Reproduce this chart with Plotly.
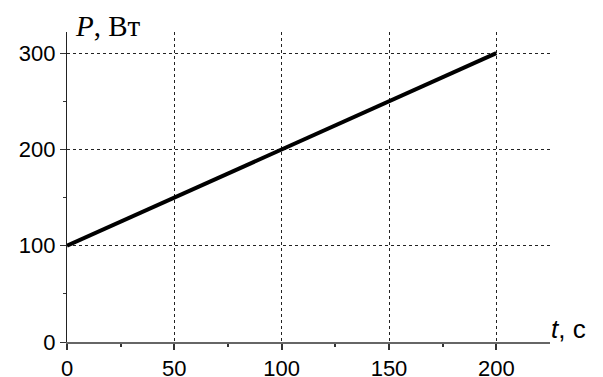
import plotly.graph_objects as go

t_values = [0, 200]
p_values = [100, 300]
x_ticks = [0, 50, 100, 150, 200]
y_ticks = [0, 100, 200, 300]

fig = go.Figure()
fig.add_trace(go.Scatter(x=t_values, y=p_values, mode="lines",
                         line=dict(color="black", width=4), showlegend=False,
                         cliponaxis=False))

axis_common = dict(
    showline=True, showgrid=True, gridcolor="#222", gridwidth=1, griddash="dot",
    zeroline=False, ticks="outside", ticklen=6,
    tickfont=dict(family="Arial", size=22, color="black"),
    automargin=False,
)

fig.update_xaxes(range=[0, 225], tickvals=x_ticks, linecolor="#666", linewidth=2,
                 tickcolor="#333", tickwidth=1.5,
                 minor=dict(tickvals=[25, 75, 125, 175], ticks="outside", ticklen=3,
                            tickcolor="#333", showgrid=False),
                 **axis_common)
fig.update_yaxes(range=[0, 322], tickvals=y_ticks, linecolor="#222", linewidth=1.3,
                 tickcolor="#333", tickwidth=1.3,
                 minor=dict(tickvals=[50, 150, 250], ticks="outside", ticklen=3,
                            tickcolor="#333", showgrid=False),
                 **axis_common)

fig.add_annotation(xref="paper", yref="paper", x=0.012, y=1.019, xanchor="left", yanchor="middle",
                   text="<i>P</i>, Вт", showarrow=False,
                   font=dict(family="Times New Roman", size=29, color="black"))
fig.add_annotation(xref="paper", yref="paper", x=1.078, y=0.042, xanchor="right", yanchor="middle",
                   text="<i>t</i>, с", showarrow=False,
                   font=dict(family="Arial", size=26, color="black"))

# page body has an 8px default margin; size the figure so the plot area lands in place
fig.update_layout(width=595, height=369, margin=dict(l=59, r=53, t=24, b=35),
                  plot_bgcolor="white", paper_bgcolor="white")

fig.write_html("out.html")
